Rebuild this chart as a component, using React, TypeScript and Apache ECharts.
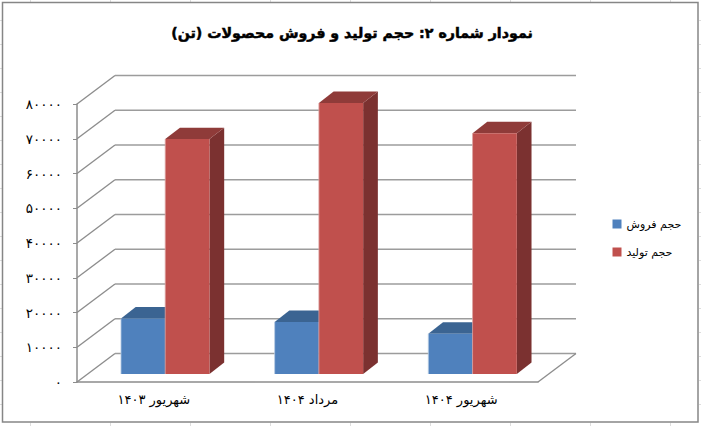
import React, { useEffect, useRef } from "react";
import * as echarts from "echarts";

const categories = ["شهریور ۱۴۰۳", "مرداد ۱۴۰۴", "شهریور ۱۴۰۴"];
const salesValues = [16000, 15000, 11600];
const productionValues = [67600, 78000, 69300];
const tickValues = [0, 10000, 20000, 30000, 40000, 50000, 60000, 70000, 80000];
const seriesNames = ["حجم فروش", "حجم تولید"];
const titleText = "نمودار شماره ۲: حجم تولید و فروش محصولات (تن)";

const persianDigits = "۰۱۲۳۴۵۶۷۸۹";
const toPersian = (v: number) => String(v).replace(/\d/g, (d) => persianDigits[Number(d)]);

const FONT = "DejaVu Sans";
const WALL_DX = 38;
const WALL_DY = -28.5;
const BAR_SHIFT_X = 11.4;
const BAR_SHIFT_Y = -8;
const BAR_RATIO = 0.288;
const DEPTH_DX = 14.7;
const DEPTH_DY = -11.4;

const palette = {
  blue: { front: "#4F81BD", top: "#3B6492", side: "#2F5078", edge: "#B9CDE5" },
  red: { front: "#C0504D", top: "#8F3B39", side: "#7B3130", edge: "#DDA5A3" },
};

const barRenderer = (slot: number, c: typeof palette.blue) => (_: any, api: any) => {
  const cat = api.value(0);
  const val = api.value(1);
  const base = api.coord([cat, 0]);
  const top = api.coord([cat, val]);
  const band = api.size([1, 0])[0];
  const w = band * BAR_RATIO;
  const x0 = base[0] + BAR_SHIFT_X + (slot - 1) * w;
  const x1 = x0 + w;
  const yb = base[1] + BAR_SHIFT_Y;
  const yt = top[1] + BAR_SHIFT_Y;
  return {
    type: "group",
    children: [
      {
        type: "polygon",
        shape: { points: [[x1, yt], [x1 + DEPTH_DX, yt + DEPTH_DY], [x1 + DEPTH_DX, yb + DEPTH_DY], [x1, yb]] },
        style: { fill: c.side },
      },
      {
        type: "polygon",
        shape: { points: [[x0, yt], [x1, yt], [x1 + DEPTH_DX, yt + DEPTH_DY], [x0 + DEPTH_DX, yt + DEPTH_DY]] },
        style: { fill: c.top },
      },
      {
        type: "rect",
        shape: { x: x0, y: yt, width: w, height: yb - yt },
        style: { fill: c.front },
      },
      {
        type: "polyline",
        shape: { points: [[x0, yb], [x0, yt]] },
        style: { fill: "none", stroke: c.edge, lineWidth: 0.8 },
      },
    ],
  };
};

const wallRenderer = (params: any, api: any) => {
  const v = api.value(1);
  const y = api.coord([0, v])[1];
  const { x, width } = params.coordSys;
  const by = y + WALL_DY;
  const children: any[] = [
    {
      type: "line",
      shape: { x1: x, y1: y, x2: x + WALL_DX, y2: by },
      style: { stroke: "#8C8C8C", lineWidth: 1.3 },
    },
    {
      type: "line",
      shape: { x1: x + WALL_DX, y1: by, x2: x + width + WALL_DX, y2: by },
      style: { stroke: "#9C9C9C", lineWidth: 1.6 },
    },
  ];
  if (v === 0) {
    children.push({
      type: "line",
      shape: { x1: x + width, y1: y, x2: x + width + WALL_DX, y2: by },
      style: { stroke: "#8C8C8C", lineWidth: 1.3 },
    });
  }
  return { type: "group", children };
};

const frameGraphics = () => {
  const items: any[] = [];
  const faint = { stroke: "#DDDDDD", lineWidth: 1 };
  for (let x = 30.5; x < 701; x += 80) {
    items.push({ type: "line", z: -2, silent: true, shape: { x1: x, y1: 0, x2: x, y2: 2 }, style: faint });
    items.push({ type: "line", z: -2, silent: true, shape: { x1: x, y1: 423, x2: x, y2: 426 }, style: faint });
  }
  for (let y = 20.5; y < 426; y += 24) {
    items.push({ type: "line", z: -2, silent: true, shape: { x1: 0, y1: y, x2: 2, y2: y }, style: faint });
    items.push({ type: "line", z: -2, silent: true, shape: { x1: 699, y1: y, x2: 701, y2: y }, style: faint });
  }
  items.push({
    type: "rect",
    z: -1,
    silent: true,
    shape: { x: 2.5, y: 2.5, width: 695.5, height: 419.5 },
    style: { fill: "#FFFFFF", stroke: "#868686", lineWidth: 1.5 },
  });
  return items;
};

export default function App() {
  const ref = useRef<HTMLDivElement>(null);
  useEffect(() => {
    const chart = echarts.init(ref.current!, null, { renderer: "svg" });
    chart.setOption({
      animation: false,
      backgroundColor: "#FFFFFF",
      title: {
        text: titleText,
        left: 347,
        top: 21,
        textAlign: "center",
        textStyle: {
          fontFamily: FONT,
          fontWeight: "bold",
          fontSize: 14.2,
          color: "#000000",
          textBorderColor: "#000000",
          textBorderWidth: 0.5,
        },
      },
      legend: {
        orient: "vertical",
        left: 607.5,
        top: 213.5,
        itemWidth: 9,
        itemHeight: 9,
        itemGap: 17,
        icon: "rect",
        data: seriesNames,
        textStyle: { fontFamily: FONT, fontSize: 11, color: "#000000" },
      },
      grid: { left: 77, right: 163, top: 104, height: 278 },
      xAxis: {
        type: "category",
        data: categories,
        axisLine: { lineStyle: { color: "#8C8C8C", width: 1.5 } },
        axisTick: { alignWithLabel: false, length: 5, lineStyle: { color: "#8C8C8C" } },
        axisLabel: { fontFamily: FONT, fontSize: 13, color: "#000000", margin: 11 },
        splitLine: { show: false },
      },
      yAxis: {
        type: "value",
        min: 0,
        max: 80000,
        interval: 10000,
        axisLine: { show: true, lineStyle: { color: "#8C8C8C", width: 1.5 } },
        axisTick: { show: true, length: 4, lineStyle: { color: "#8C8C8C" } },
        axisLabel: {
          fontFamily: FONT,
          fontSize: 13.5,
          color: "#000000",
          margin: 15,
          formatter: (v: number) => toPersian(v),
        },
        splitLine: { show: false },
      },
      graphic: frameGraphics(),
      series: [
        {
          type: "custom",
          name: "walls",
          renderItem: wallRenderer,
          data: tickValues.map((v) => [0, v]),
          encode: { x: 0, y: 1 },
          silent: true,
          z: 1,
          clip: false,
        },
        {
          type: "custom",
          name: seriesNames[0],
          renderItem: barRenderer(0, palette.blue),
          data: salesValues.map((v, i) => [i, v]),
          encode: { x: 0, y: 1 },
          itemStyle: { color: palette.blue.front },
          z: 2,
        },
        {
          type: "custom",
          name: seriesNames[1],
          renderItem: barRenderer(1, palette.red),
          data: productionValues.map((v, i) => [i, v]),
          encode: { x: 0, y: 1 },
          itemStyle: { color: palette.red.front },
          z: 3,
        },
      ],
    });
    return () => chart.dispose();
  }, []);
  return <div ref={ref} style={{ position: "fixed", left: 0, top: 0, width: 701, height: 426 }} />;
}
